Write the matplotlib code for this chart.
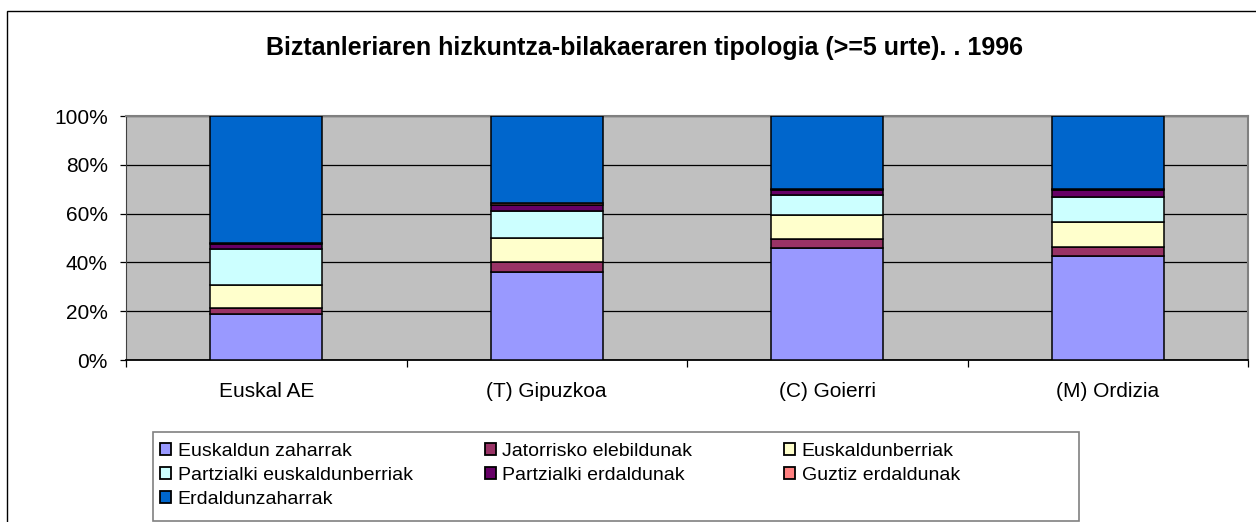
import numpy as np
import matplotlib
matplotlib.use('Agg')
import matplotlib.pyplot as plt
from matplotlib.patches import Patch, Rectangle

plt.rcParams['font.family'] = ['Liberation Sans', 'DejaVu Sans']

# data (percent)
categories = ['Euskal AE', '(T) Gipuzkoa', '(C) Goierri', '(M) Ordizia']
series = ['Euskaldun zaharrak', 'Jatorrisko elebildunak', 'Euskaldunberriak',
          'Partzialki euskaldunberriak', 'Partzialki erdaldunak',
          'Guztiz erdaldunak', 'Erdaldunzaharrak']
euskaldun_zaharrak = [18.9, 36.2, 45.7, 42.8]
jatorrisko_elebildunak = [2.5, 4.1, 3.7, 3.7]
euskaldunberriak = [9.5, 9.5, 9.9, 9.9]
partz_euskaldunberriak = [14.4, 11.1, 8.2, 10.3]
partz_erdaldunak = [2.4, 2.8, 2.3, 3.0]
guztiz_erdaldunak = [0.3, 0.5, 0.3, 0.4]
erdaldunzaharrak = [52.0, 35.8, 29.9, 29.9]
colors = ['#9999FF', '#993366', '#FFFFCC', '#CCFFFF', '#660066', '#FF8080', '#0066CC']
title = 'Biztanleriaren hizkuntza-bilakaeraren tipologia (>=5 urte). . 1996'

vals = np.array([euskaldun_zaharrak, jatorrisko_elebildunak, euskaldunberriak,
                 partz_euskaldunberriak, partz_erdaldunak, guztiz_erdaldunak,
                 erdaldunzaharrak])
vals = vals / vals.sum(axis=0) * 100

fig = plt.figure(figsize=(12.56, 5.22), dpi=100)
ax = fig.add_axes([126/1256, 1-360/522, 1122/1256, 244/522])
ax.set_facecolor('#C0C0C0')

x = np.arange(len(categories))
bottom = np.zeros(len(categories))
for v, c in zip(vals, colors):
    ax.bar(x, v, 0.4, bottom=bottom, color=c, edgecolor='black', linewidth=1.1, zorder=3)
    bottom += v

ax.set_xlim(-0.5, len(categories) - 0.5)
ax.set_ylim(0, 100)
ax.set_yticks(np.arange(0, 101, 20))
ax.set_yticklabels(['%d%%' % t for t in range(0, 101, 20)], fontsize=15)
ax.yaxis.grid(True, color='black', linewidth=0.9, zorder=1)
ax.set_axisbelow(True)
ax.tick_params(axis='y', length=4.5, width=0.9, pad=8.5, color='black')

ax.set_xticks(x)
ax.set_xticklabels(categories, fontsize=15)
ax.set_xticks(np.arange(-0.5, len(categories)), minor=True)
ax.tick_params(axis='x', which='major', length=0, pad=16)
ax.tick_params(axis='x', which='minor', length=5, width=0.9, color='black')

for s in ['top', 'right']:
    ax.spines[s].set_color('#808080')
    ax.spines[s].set_linewidth(1.5)
ax.spines['left'].set_color('#404040')
ax.spines['bottom'].set_color('black')
ax.spines['bottom'].set_linewidth(1.3)

fig.text(645/1256, 1-48/522, title, ha='center', va='center', fontsize=18, fontweight='bold')

# legend: three columns, row-wise order like the original
handles = [Patch(facecolor=c, edgecolor='black', linewidth=1.3) for c in colors]
cols = [[0, 3, 6], [1, 4], [2, 5]]
col_x = [160, 485, 784]
for idx, cx in zip(cols, col_x):
    fig.legend([handles[i] for i in idx], [series[i] for i in idx],
               loc='upper left', bbox_to_anchor=(cx/1256, 1-443/522),
               frameon=False, fontsize=14, handlelength=0.55, handleheight=0.55,
               handletextpad=0.35, labelspacing=0.36, borderpad=0, borderaxespad=0)
fig.patches.append(Rectangle((153/1256, 1-521/522), 926/1256, 89/522,
                             transform=fig.transFigure, fill=False,
                             edgecolor='#808080', linewidth=1.2))

# outer frame
fig.patches.append(Rectangle((7/1256, -0.1), 1.2, 1.1-11/522,
                             transform=fig.transFigure, fill=False,
                             edgecolor='black', linewidth=1.0))

fig.savefig('out.png', dpi=100)
